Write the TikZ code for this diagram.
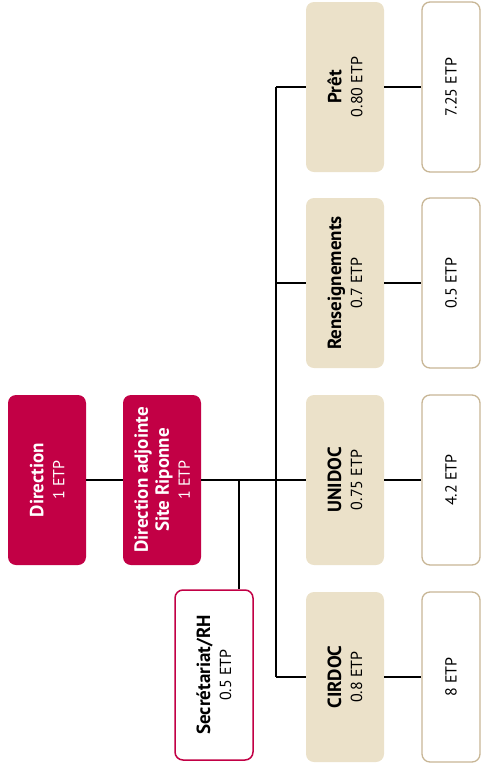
\documentclass[tikz,border=0pt]{standalone}
\usepackage{fontspec}
\setmainfont{PT Sans}
\usepackage{tikz}
\usetikzlibrary{positioning, calc}

\definecolor{carmin}{HTML}{C20045}
\definecolor{sable}{HTML}{EBE1C9}
\definecolor{sablefonce}{HTML}{C8B696}
\newcommand{\titre}[1]{{\fontsize{19}{21}\selectfont\bfseries #1}}

\begin{document}
\begin{tikzpicture}[x=1pt, y=-1pt,
  boite/.style={rotate=90, rounded corners=8pt, minimum width=170pt, minimum height=78pt,
    align=center, inner sep=0pt, font=\fontsize{16}{21}\selectfont},
  direc/.style={boite, fill=carmin, text=white},
  service/.style={boite, fill=sable},
  effectif/.style={boite, minimum height=58pt, draw=sablefonce, line width=1.3pt, fill=white},
  secr/.style={boite, draw=carmin, line width=1.5pt, fill=white},
  lien/.style={line width=1.5pt}]
\useasboundingbox (0,0) rectangle (482,772);

% Direction
\node[direc] (direction) at (47,480) {\titre{Direction}\\1 ETP};
\node[direc] (adjointe) at (162,480) {\titre{Direction adjointe}\\\titre{Site Riponne}\\1 ETP};
\node[secr] (secretariat) at (214,675) {\titre{Secrétariat/RH}\\0.5 ETP};

% Services et effectifs
\foreach \nom/\etp/\total/\y/\id in {Prêt/0.80/7.25/87/pret, Renseignements/0.7/0.5/283/rens,
    UNIDOC/0.75/4.2/480/unidoc, CIRDOC/0.8/8/677/cirdoc} {
  \node[service] (\id) at (345,\y) {\titre{\nom}\\\etp{} ETP};
  \node[effectif] (\id-tot) at (451,\y) {\total{} ETP};
  \draw[lien] (\id) -- (\id-tot);
}

% Liens
\coordinate (tronc) at (276,480);
\coordinate (embr) at (239,480);
\draw[lien] (direction) -- (adjointe);
\draw[lien] (adjointe) -- (unidoc);
\draw[lien] (tronc |- pret) -- (tronc |- cirdoc);
\foreach \id in {pret, rens, cirdoc}
  \draw[lien] (tronc |- \id) -- (\id);
\draw[lien] (embr) -- (embr |- secretariat.east);
\end{tikzpicture}
\end{document}
